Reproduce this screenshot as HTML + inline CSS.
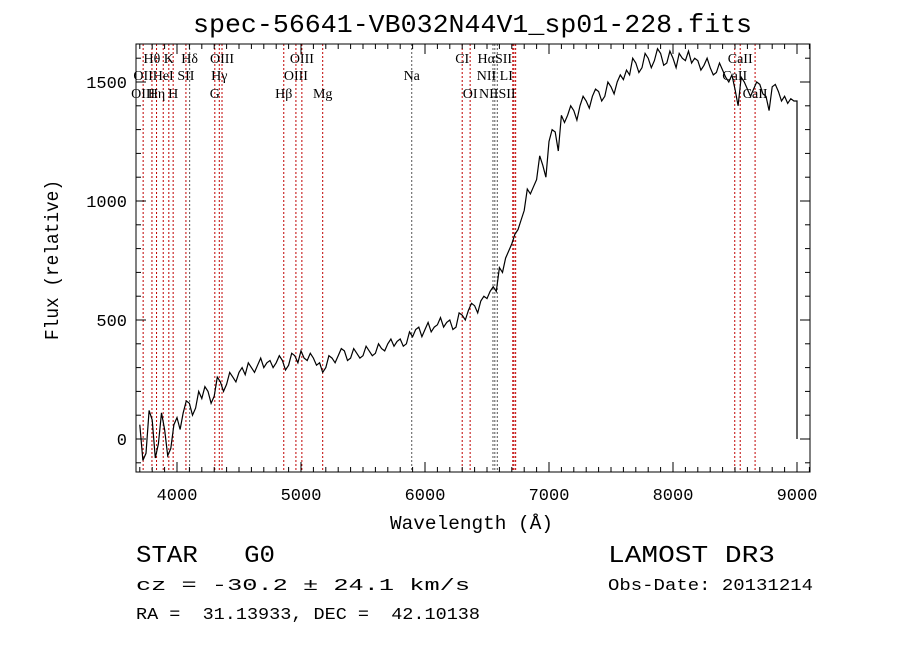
<!DOCTYPE html>
<html><head><meta charset="utf-8"><style>
body{margin:0;background:#fff}
svg{display:block}
text{font-family:"Liberation Mono",monospace;fill:#000;white-space:pre}
.ln{font-family:"Liberation Serif",serif;font-size:14px}
</style></head><body>
<svg id="chart" width="900" height="649" viewBox="0 0 900 649" xmlns="http://www.w3.org/2000/svg">
<rect width="900" height="649" fill="#fff"/>
<text x="193" y="32" font-size="26" textLength="559" lengthAdjust="spacingAndGlyphs">spec-56641-VB032N44V1_sp01-228.fits</text>
<g id="lines"></g>
<g id="labels"></g>
<path id="spec" fill="none" stroke="#000" stroke-width="1.2"/>
<rect x="136" y="44" width="674" height="428" fill="none" stroke="#000" stroke-width="1"/>
<g id="ticks" stroke="#000" stroke-width="1"></g>
<g id="ticklabels"></g>
<text x="390" y="529" font-size="19" textLength="163" lengthAdjust="spacingAndGlyphs">Wavelength (Å)</text>
<text transform="translate(58,340) rotate(-90)" font-size="19" textLength="160" lengthAdjust="spacingAndGlyphs">Flux (relative)</text>
<text x="136" y="562" font-size="24" textLength="139" lengthAdjust="spacingAndGlyphs" xml:space="preserve">STAR   G0</text>
<text x="608" y="562" font-size="24" textLength="167" lengthAdjust="spacingAndGlyphs">LAMOST DR3</text>
<text x="136" y="590" font-size="17" textLength="334" lengthAdjust="spacingAndGlyphs">cz = -30.2 ± 24.1 km/s</text>
<text x="608" y="590" font-size="17" textLength="205" lengthAdjust="spacingAndGlyphs">Obs-Date: 20131214</text>
<text x="136" y="619" font-size="17" textLength="344" lengthAdjust="spacingAndGlyphs" xml:space="preserve">RA =  31.13933, DEC =  42.10138</text>
</svg>
<script>
const fluxStart = 3700;
const fluxStep = 25;
const fluxValues = [60,-90,-60,120,80,-80,-20,110,40,-70,-40,60,90,40,110,160,150,100,130,200,170,220,200,150,180,260,240,200,230,280,260,240,280,300,270,320,300,280,310,340,300,320,330,300,320,350,330,290,310,360,350,320,370,340,330,360,340,310,320,280,300,350,340,320,350,380,370,330,340,380,360,340,350,390,370,350,360,400,380,370,400,420,390,410,420,390,400,450,430,460,470,430,460,490,450,470,480,510,470,490,500,460,470,530,520,500,540,570,560,530,580,600,590,620,640,620,720,700,760,790,820,860,880,920,960,1050,1030,1060,1090,1190,1150,1100,1250,1300,1290,1210,1360,1330,1360,1400,1380,1340,1400,1440,1420,1390,1440,1470,1460,1420,1440,1500,1480,1450,1500,1530,1510,1550,1530,1600,1580,1540,1560,1620,1600,1560,1590,1640,1620,1570,1580,1630,1600,1560,1620,1600,1590,1630,1580,1600,1590,1550,1570,1600,1560,1530,1540,1580,1550,1520,1500,1530,1470,1400,1520,1500,1470,1440,1470,1500,1490,1450,1440,1380,1480,1490,1460,1420,1440,1410,1430,1420];
const tailWaves = [9000,9000];
const tailFlux = [1420,0];
const lineWaves = [3727,3798,3835,3889,3934,3969,4072,4102,4305,4341,4363,4861,4959,5007,5175,5893,6300,6364,6548,6563,6583,6708,6717,6731,8498,8542,8662];
const lineKinds = ["r","r","r","r","r","r","r","k","r","r","r","r","r","r","r","k","r","r","k","k","k","r","r","r","r","r","r"];
const labelTexts = ["Hθ","K","Hδ","OIII","OIII","CI","HαSII","CaII","OII","HeI","SII","Hγ","OIII","Na","NII LI","CaII","OIII","Hη","H","G","Hβ","Mg","OI","NIISII","CaII"];
const labelWaves = [3798,3934,4102,4363,5007,6300,6563,8542,3727,3889,4072,4341,4959,5893,6563,8498,3727,3835,3969,4305,4861,5175,6364,6583,8662];
const labelRows = [1,1,1,1,1,1,1,1,2,2,2,2,2,2,2,2,3,3,3,3,3,3,3,3,3];
const xTicks = [4000,5000,6000,7000,8000,9000];
const yTicks = [0,500,1000,1500];
const X=w=>177+(w-4000)*0.124;
const Y=f=>439-f*0.238;
const NS="http://www.w3.org/2000/svg";
function mk(tag,attrs,parent){const e=document.createElementNS(NS,tag);for(const k in attrs)e.setAttribute(k,attrs[k]);parent.appendChild(e);return e;}
const gL=document.getElementById('lines');
lineWaves.forEach((w,i)=>{
 const l=mk('line',{x1:X(w),x2:X(w),y1:44,y2:472,stroke:lineKinds[i]==='r'?'#c00000':'#555','stroke-width':1,'stroke-dasharray':'2,2'},gL);
 
 
});
const gT=document.getElementById('labels');
labelTexts.forEach((t,i)=>{
 const e=mk('text',{x:X(labelWaves[i]),y:[0,63,80,98][labelRows[i]],'text-anchor':'middle',class:'ln'},gT);
 e.textContent=t;
 
 
});
let d='';
fluxValues.forEach((f,i)=>{d+=(i?'L':'M')+X(fluxStart+i*fluxStep).toFixed(1)+','+Y(f).toFixed(1);});
tailWaves.forEach((w,i)=>{d+='L'+X(w).toFixed(1)+','+Y(tailFlux[i]).toFixed(1);});
document.getElementById('spec').setAttribute('d',d);
const gK=document.getElementById('ticks');const gTL=document.getElementById('ticklabels');
for(let w=3700;w<=9100;w+=100){const maj=w%1000===0,len=maj?10:5;
 mk('line',{x1:X(w),x2:X(w),y1:472,y2:472-len},gK);mk('line',{x1:X(w),x2:X(w),y1:44,y2:44+len},gK);}
for(let f=-100;f<=1600;f+=100){const maj=f%500===0,len=maj?10:5;
 mk('line',{x1:136,x2:136+len,y1:Y(f),y2:Y(f)},gK);mk('line',{x1:810,x2:810-len,y1:Y(f),y2:Y(f)},gK);}
xTicks.forEach(v=>{const e=mk('text',{x:X(v),y:500,'text-anchor':'middle','font-size':17},gTL);e.textContent=v;
 
 });
yTicks.forEach(v=>{const e=mk('text',{x:127,y:Y(v)+6,'text-anchor':'end','font-size':17},gTL);e.textContent=v;
 
 });
</script>
</body></html>
